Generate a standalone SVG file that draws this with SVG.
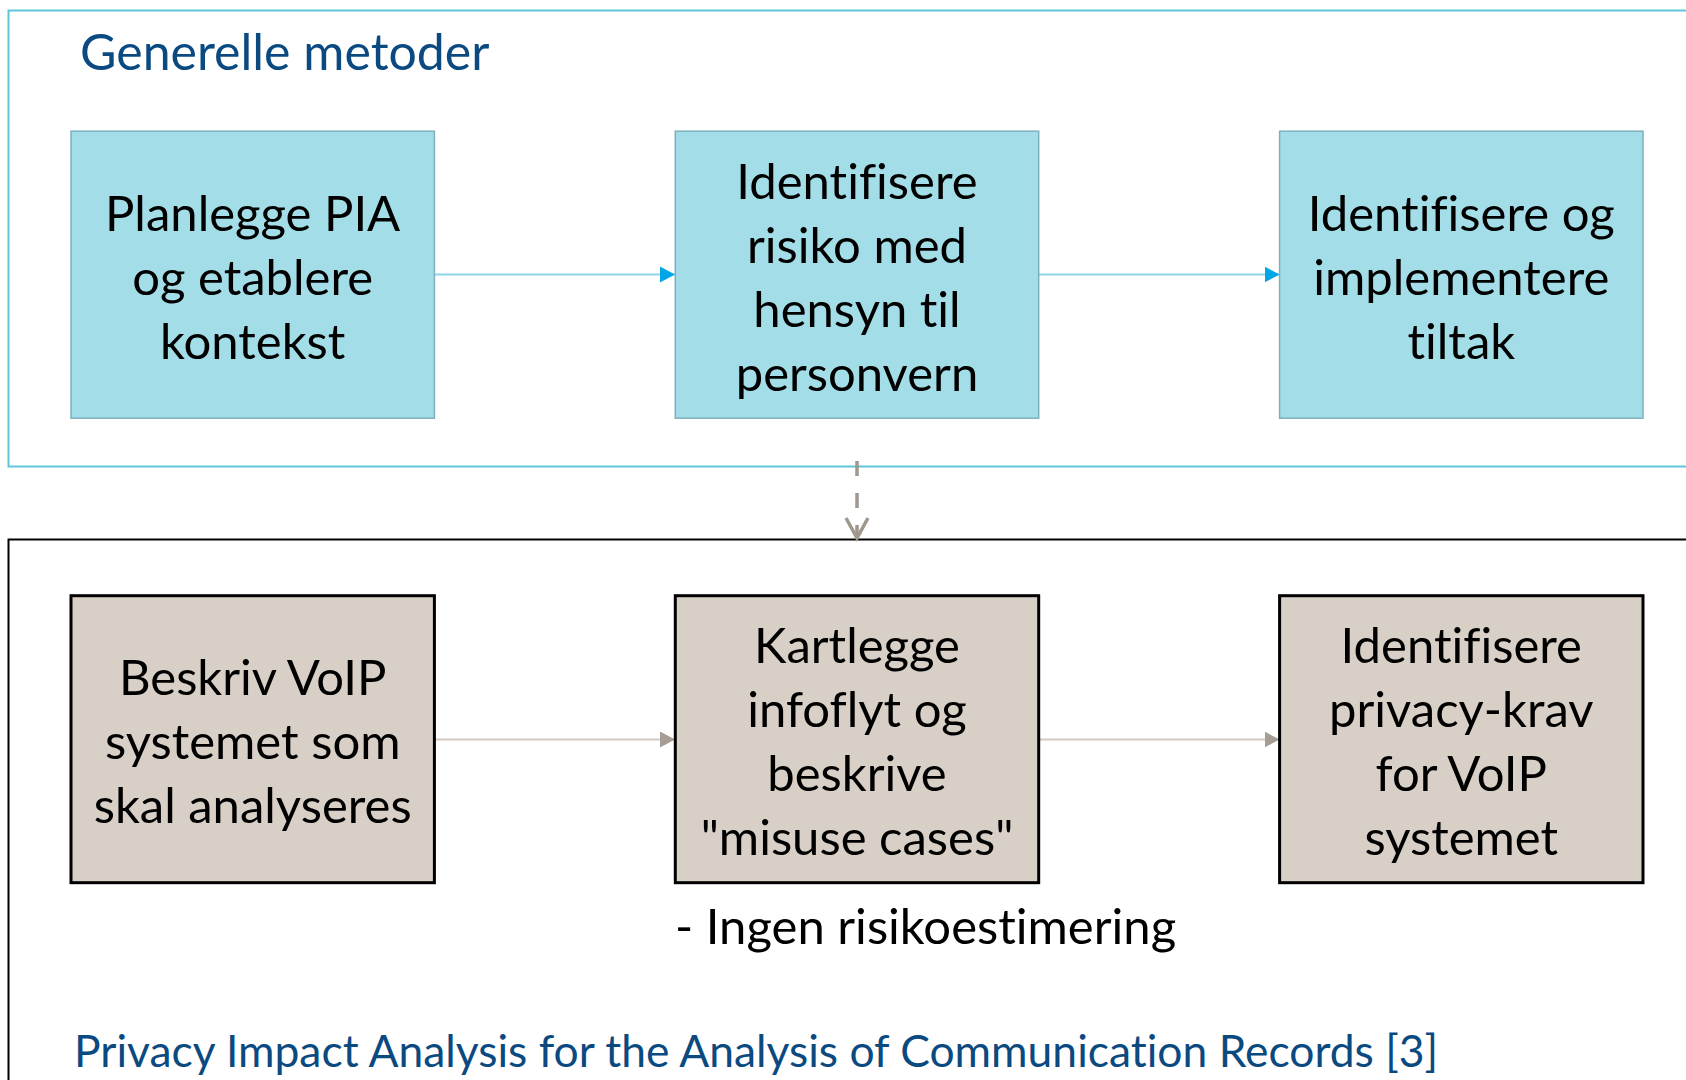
<svg xmlns="http://www.w3.org/2000/svg" width="1686" height="1080" viewBox="0 0 1686 1080">
<style>
text{font-variant-ligatures:none;font-feature-settings:"liga" 0,"clig" 0}
.txt{font-family:Lato,"Liberation Sans",sans-serif;font-size:49px;fill:#000;text-anchor:middle}
.blue{font-family:Lato,"Liberation Sans",sans-serif;fill:#0B4A80}
.topbox{fill:#A3DDE8;stroke:#7DAFBE;stroke-width:1.5}
.botbox{fill:#D8CFC6;stroke:#000;stroke-width:3}
.ctop{stroke:#8ED6EB;stroke-width:2;fill:none}
.cbot{stroke:#D2CAC2;stroke-width:2;fill:none}
</style>
<defs>
<marker id="ahBlue" markerWidth="16" markerHeight="16" refX="15" refY="8" orient="auto" markerUnits="userSpaceOnUse"><path d="M0,0 L15,8 L0,16 Z" fill="#00A6E6"/></marker>
<marker id="ahGray" markerWidth="16" markerHeight="16" refX="15" refY="8" orient="auto" markerUnits="userSpaceOnUse"><path d="M0,0 L15,8 L0,16 Z" fill="#A69D94"/></marker>
</defs>
<rect width="1686" height="1080" fill="#fff"/>
<g id="container-top"><rect x="8.5" y="10.5" width="1700" height="456" fill="none" stroke="#5FC6DA" stroke-width="2"/><text class="blue" x="80" y="70" font-size="50">Generelle metoder</text></g>
<g id="container-bottom"><rect x="8.5" y="539.5" width="1700" height="600" fill="none" stroke="#000" stroke-width="2"/></g>
<g id="connectors">
<line class="ctop" x1="434" y1="274.5" x2="675" y2="274.5" marker-end="url(#ahBlue)"/>
<line class="ctop" x1="1038.7" y1="274.5" x2="1279.6" y2="274.5" marker-end="url(#ahBlue)"/>
<line class="cbot" x1="434" y1="739.5" x2="675" y2="739.5" marker-end="url(#ahGray)"/>
<line class="cbot" x1="1038.7" y1="739.5" x2="1279.6" y2="739.5" marker-end="url(#ahGray)"/>
<line x1="857" y1="461" x2="857" y2="537" stroke="#A0978D" stroke-width="3.5" stroke-dasharray="15 17"/>
<path d="M846,518 L857,538 L868,518" fill="none" stroke="#A0978D" stroke-width="3.5"/>
</g>
<g id="n1"><rect class="topbox" x="71" y="131.2" width="363.4" height="287"/><text class="txt"><tspan x="252.7" y="231">Planlegge PIA</tspan><tspan x="252.7" y="295">og etablere</tspan><tspan x="252.7" y="359">kontekst</tspan></text></g>
<g id="n2"><rect class="topbox" x="675.3" y="131.2" width="363.4" height="287"/><text class="txt"><tspan x="857" y="199">Identifisere</tspan><tspan x="857" y="263">risiko med</tspan><tspan x="857" y="327">hensyn til</tspan><tspan x="857" y="391">personvern</tspan></text></g>
<g id="n3"><rect class="topbox" x="1279.6" y="131.2" width="363.4" height="287"/><text class="txt"><tspan x="1461.3" y="231">Identifisere og</tspan><tspan x="1461.3" y="295">implementere</tspan><tspan x="1461.3" y="359">tiltak</tspan></text></g>
<g id="n4"><rect class="botbox" x="71" y="595.7" width="363.4" height="287"/><text class="txt"><tspan x="252.7" y="695">Beskriv VoIP</tspan><tspan x="252.7" y="759">systemet som</tspan><tspan x="252.7" y="823">skal analyseres</tspan></text></g>
<g id="n5"><rect class="botbox" x="675.3" y="595.7" width="363.4" height="287"/><text class="txt"><tspan x="857" y="663">Kartlegge</tspan><tspan x="857" y="727">infoflyt og</tspan><tspan x="857" y="791">beskrive</tspan><tspan x="857" y="855">"misuse cases"</tspan></text></g>
<g id="n6"><rect class="botbox" x="1279.6" y="595.7" width="363.4" height="287"/><text class="txt"><tspan x="1461.3" y="663">Identifisere</tspan><tspan x="1461.3" y="727">privacy-krav</tspan><tspan x="1461.3" y="791">for VoIP</tspan><tspan x="1461.3" y="855">systemet</tspan></text></g>
<g id="note"><text class="txt" style="text-anchor:start" x="675" y="944">- Ingen risikoestimering</text></g>
<g id="footer"><text class="blue" x="74" y="1067" font-size="44.4">Privacy Impact Analysis for the Analysis of Communication Records [3]</text></g>
</svg>
